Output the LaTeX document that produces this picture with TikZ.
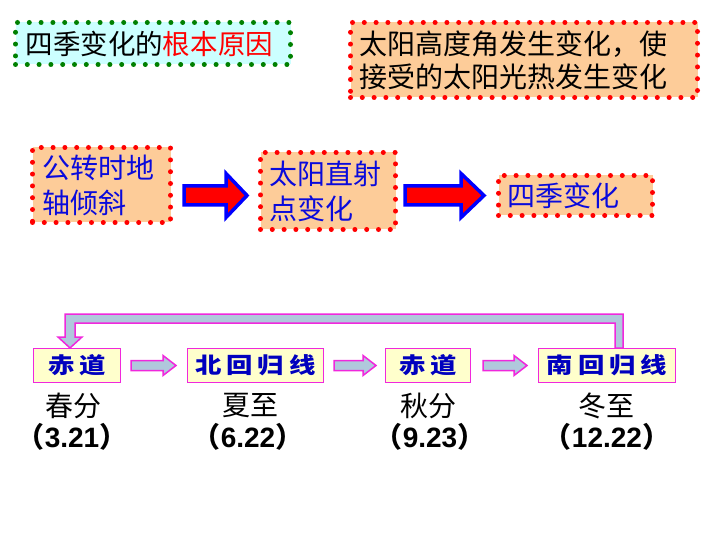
\documentclass[tikz,border=0pt]{standalone}
\usepackage{fontspec}
\setmainfont{Liberation Sans}
\newfontfamily\cjk{Noto Sans CJK SC}
\newfontfamily\cjkw{Noto Sans CJK SC}[FakeStretch=1.2]
\usetikzlibrary{calc}
\definecolor{cyanf}{RGB}{204,255,255}
\definecolor{peach}{RGB}{253,204,153}
\definecolor{dgreen}{RGB}{0,128,0}
\definecolor{tblue}{RGB}{10,10,220}
\definecolor{pinkb}{RGB}{240,40,220}
\definecolor{lblue}{RGB}{176,200,220}
\definecolor{yellowf}{RGB}{255,255,204}
\definecolor{bblue}{RGB}{0,0,190}
\newcommand\blkarrow[6]{%
 \draw[#1] let \p1=#2, \p2=#3 in (\x1,\y1+#4) -- (\x2-#6,\y1+#4) -- (\x2-#6,\y1+#5) -- (\x2,\y1) -- (\x2-#6,\y1-#5) -- (\x2-#6,\y1-#4) -- (\x1,\y1-#4) -- cycle;}
\begin{document}
\begin{tikzpicture}[x=1pt,y=-1pt,
 dotbox/.style={line width=5pt, dash pattern=on 0pt off 11.8pt, line cap=round, inner xsep=10pt, inner ysep=0pt, align=left, anchor=north west},
 redbox/.style={dotbox, draw=red, fill=peach},
 bigtxt/.style={font=\cjk\fontsize{28}{35}\selectfont},
 ybox/.style={draw=pinkb, line width=1pt, fill=yellowf, anchor=north west, minimum height=34pt, inner sep=0pt, text=bblue, font=\cjkw\bfseries\fontsize{22}{24}\selectfont},
 lab/.style={font=\cjk\fontsize{28}{30}\selectfont},
 dat/.style={font=\bfseries\fontsize{28}{30}\selectfont},
 bigarr/.style={draw=blue, fill=red, line width=3.5pt, line join=miter},
 smallarr/.style={draw=pinkb, fill=lblue, line width=1.5pt, line join=miter},
 looparr/.style={draw=pinkb, fill=lblue, line width=1.5pt, line join=miter}]
\useasboundingbox (0,0) rectangle (720,540);
% top boxes
\node[dotbox, draw=dgreen, fill=cyanf, minimum width=275pt, minimum height=42pt, text width=255pt, font=\cjk\fontsize{27.5}{32}\selectfont] (t1) at (13,20) {四季变化的\textcolor{red}{根本原因}};
\node[redbox, minimum width=347pt, minimum height=75pt, text width=329pt, font=\cjk\fontsize{28}{33}\selectfont, inner xsep=9pt] (t2) at (348,20) {太阳高度角发生变化，使\\接受的太阳光热发生变化};
% flow boxes
\node[redbox, bigtxt, text=tblue, minimum width=138pt, minimum height=75pt, text width=118pt] (t3) at (30,145) {公转时地\\轴倾斜};
\node[redbox, bigtxt, text=tblue, minimum width=135pt, minimum height=77pt, text width=117pt, inner xsep=9pt] (t4) at (258,150) {太阳直射\\点变化};
\node[redbox, bigtxt, text=tblue, minimum width=154pt, minimum height=40pt, text width=136pt, inner xsep=9pt] (t5) at (496,173) {四季变化};
\blkarrow{bigarr}{($(t3.east |- t5.center)+(11,0)$)}{($(t4.west |- t5.center)+(-11,0)$)}{9.5pt}{22pt}{21pt}
\blkarrow{bigarr}{($(t4.east |- t5.center)+(7,0)$)}{($(t5.west)+(-12,0)$)}{9.5pt}{22pt}{23pt}
% bottom boxes
\node[ybox, minimum width=87pt] (e1) at (33,348) {赤\kern5pt 道};
\node[ybox, minimum width=136pt] (n1) at (187,348) {北\kern5pt 回\kern5pt 归\kern5pt 线};
\node[ybox, minimum width=85pt] (e2) at (385,348) {赤\kern5pt 道};
\node[ybox, minimum width=137pt] (s1) at (538,348) {南\kern5pt 回\kern5pt 归\kern5pt 线};
\blkarrow{smallarr}{($(e1.east)+(10,0)$)}{($(n1.west)+(-11,0)$)}{5pt}{10pt}{13pt}
\blkarrow{smallarr}{($(n1.east)+(10,0)$)}{($(e2.west)+(-9,0)$)}{5pt}{10pt}{13pt}
\blkarrow{smallarr}{($(e2.east)+(12,0)$)}{($(s1.west)+(-11,0)$)}{5pt}{10pt}{13pt}
% loop arrow
\draw[looparr] let \p1=($(s1.north west)+(81,0)$), \p2=($(e1.north west)+(37,0)$) in
 (\x1+4pt,\y1) -- (\x1+4pt,\y1+34pt) -- (\x2-5pt,\y1+34pt) -- (\x2-5pt,\y2+11pt) -- (\x2-12pt,\y2+11pt) -- (\x2,\y2) -- (\x2+12pt,\y2+11pt) -- (\x2+5pt,\y2+11pt) -- (\x2+5pt,\y1+25pt) -- (\x1-4pt,\y1+25pt) -- (\x1-4pt,\y1) -- cycle;
% labels
\node[lab] (l1) at (73,406) {春分};
\node[dat] (d1) at (72,437) {{\cjk （}3.21{\cjk ）}};
\node[lab] (l2) at (250,406) {夏至};
\node[dat] (d2) at (248,437) {{\cjk （}6.22{\cjk ）}};
\node[lab] (l3) at (428,406) {秋分};
\node[dat] (d3) at (430,437) {{\cjk （}9.23{\cjk ）}};
\node[lab] (l4) at (606,406) {冬至};
\node[dat] (d4) at (607,437) {{\cjk （}12.22{\cjk ）}};
\end{tikzpicture}
\end{document}
